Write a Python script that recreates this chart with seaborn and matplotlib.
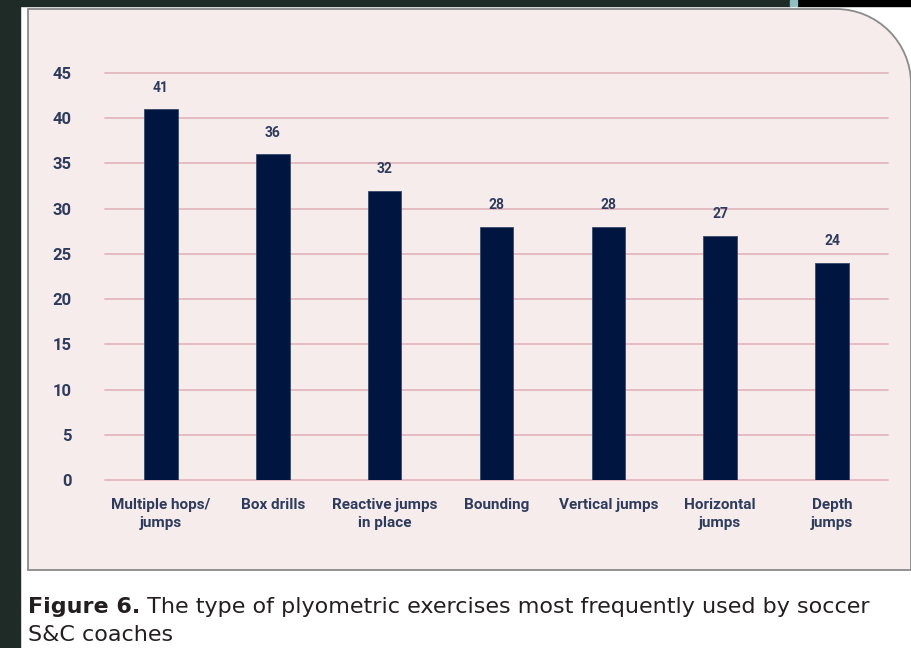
import numpy as np
import pandas as pd
import seaborn as sns
import matplotlib.pyplot as plt
from matplotlib.path import Path
from matplotlib.patches import PathPatch, Rectangle

# Дані з рисунка
exercises = ["Multiple hops/\njumps", "Box drills", "Reactive jumps\nin place", "Bounding",
             "Vertical jumps", "Horizontal\njumps", "Depth\njumps"]
counts = [41, 36, 32, 28, 28, 27, 24]
y_ticks = [0, 5, 10, 15, 20, 25, 30, 35, 40, 45]

df = pd.DataFrame({"exercise": exercises, "count": counts})

sns.set_theme(style="white")
plt.rcParams["font.family"] = ["Roboto", "DejaVu Sans"]

W, H = 912, 648
fig = plt.figure(figsize=(9.12, 6.48), dpi=100, facecolor="white")

# тло сторінки
dark = "#1f2b27"
fig.patches.append(Rectangle((0, 0), 20 / W, 1, transform=fig.transFigure, color=dark, zorder=0))
fig.patches.append(Rectangle((0, 1 - 6 / H), 790 / W, 6 / H, transform=fig.transFigure, color=dark, zorder=0))
fig.patches.append(Rectangle((797 / W, 1 - 6 / H), 115 / W, 6 / H, transform=fig.transFigure, color="black", zorder=0))
fig.patches.append(Rectangle((790 / W, 1 - 6 / H), 7 / W, 6 / H, transform=fig.transFigure, color="#8fbfc4", zorder=0))

# рожева панель з заокругленим правим верхнім кутом
x0, x1, y0, y1, r = 28, 911, 648 - 570, 648 - 9, 75
k = 0.5523
verts = [(x0, y0), (x1, y0), (x1, y1 - r),
         (x1, y1 - r + k * r), (x1 - r + k * r, y1), (x1 - r, y1),
         (x0, y1), (x0, y0)]
codes = [Path.MOVETO, Path.LINETO, Path.LINETO,
         Path.CURVE4, Path.CURVE4, Path.CURVE4,
         Path.LINETO, Path.CLOSEPOLY]
verts = [(vx / W, vy / H) for vx, vy in verts]
panel = PathPatch(Path(verts, codes), transform=fig.transFigure,
                  facecolor="#f5eceb", edgecolor="#8a8a8a", lw=1.3, zorder=1)
fig.patches.append(panel)

ax = fig.add_axes([105 / W, 168 / H, 783 / W, 407 / H])
ax.set_facecolor("none")
ax.set_zorder(2)

sns.barplot(data=df, x="exercise", y="count", color="#001540", width=0.3,
            saturation=1, ax=ax, zorder=3, edgecolor="#3a4a6a", linewidth=0.6)

label_col = "#2e3b5c"
for i, v in enumerate(counts):
    ax.text(i, v + 1.6, str(v), ha="center", va="bottom", fontsize=10,
            fontweight="bold", color=label_col)

ax.set_ylim(0, 45)
ax.set_xlim(-0.5, len(exercises) - 0.5)
ax.set_yticks(y_ticks)
for t in y_ticks:
    ax.axhline(t, color="#e3b8bf", lw=1.3, zorder=1, clip_on=False)
ax.tick_params(axis="y", length=0, pad=24, labelsize=12, labelcolor=label_col)
ax.tick_params(axis="x", length=0, pad=13, labelsize=11, labelcolor=label_col)
for lab in ax.get_yticklabels() + ax.get_xticklabels():
    lab.set_fontweight("bold")
for lab in ax.get_xticklabels():
    lab.set_multialignment("center")
    lab.set_linespacing(1.4)
ax.set_xlabel("")
ax.set_ylabel("")
sns.despine(ax=ax, left=True, bottom=True, top=True, right=True)

# підпис
cap_col = "#231f20"
cap_font = ["DejaVu Sans"]
t1 = fig.text(28 / W, 1 - 613 / H, "Figure 6.", fontsize=16, fontweight="bold",
              color=cap_col, va="baseline", family=cap_font)
ax.annotate(" The type of plyometric exercises most frequently used by soccer",
            xy=(1, 0), xycoords=t1, va="bottom", ha="left", fontsize=16,
            color=cap_col, annotation_clip=False, family=cap_font)
fig.text(28 / W, 1 - 641 / H, "S&C coaches", fontsize=16, color=cap_col,
         va="baseline", family=cap_font)

plt.savefig("out.png", dpi=100)
